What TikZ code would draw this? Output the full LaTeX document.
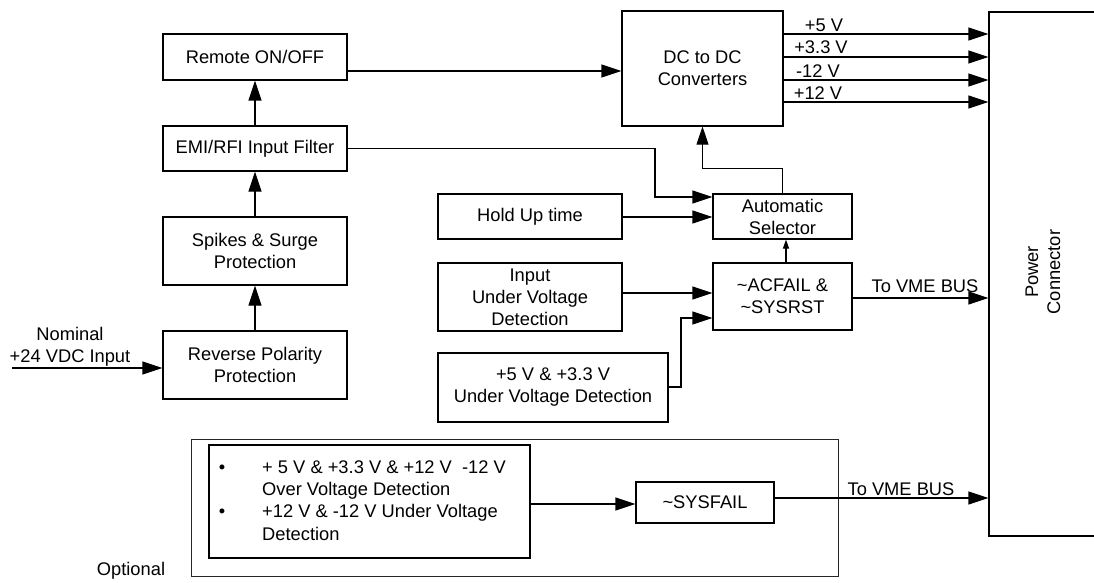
\documentclass[tikz,border=0pt]{standalone}
\usepackage{fontspec}
\setmainfont{Liberation Sans}
\usetikzlibrary{arrows.meta}
\newcommand\dgfont{\fontsize{18.3}{22}\selectfont}
\begin{document}
\begin{tikzpicture}[x=1pt,y=-1pt,
  box/.style={draw, line width=1.2pt, inner sep=0pt, align=center, font=\dgfont},
  lbl/.style={inner sep=0pt, font=\dgfont},
  ar/.style={line width=1.2pt, -{Triangle[length=20pt,width=13pt]}},
  thinar/.style={line width=0.8pt, -{Triangle[length=18pt,width=12pt]}},
  smallar/.style={line width=1.2pt, -{Triangle[length=9pt,width=6pt]}},
  optbox/.style={draw=black!85, line width=0.9pt}]
\useasboundingbox (0,0) rectangle (1094,583);

% boxes
\node[box, minimum width=184pt, minimum height=46pt] (rem) at (255,57) {Remote ON/OFF};
\node[box, minimum width=184pt, minimum height=45pt] (emi) at (255,148.5) {EMI/RFI Input Filter};
\node[box, minimum width=184pt, minimum height=68pt] (spk) at (255,251) {Spikes \& Surge\\Protection};
\node[box, minimum width=184pt, minimum height=68pt] (rev) at (255,365) {Reverse Polarity\\Protection};
\node[box, minimum width=161pt, minimum height=115pt] (dc) at (702.5,68.5) {DC to DC\\Converters};
\node[box, minimum width=184pt, minimum height=45pt] (hold) at (530,216.5) {Hold Up time};
\node[box, minimum width=139pt, minimum height=45pt] (auto) at (782.5,216.5) {Automatic\\Selector};
\node[box, minimum width=184pt, minimum height=68pt] (inuv) at (530,297) {Input\\Under Voltage\\Detection};
\node[box, minimum width=139pt, minimum height=67pt] (acf) at (782.5,296.5) {\textasciitilde ACFAIL \&\\\textasciitilde SYSRST};
\node[box, minimum width=230pt, minimum height=69pt] (v5uv) at (553,387.5) {+5 V \& +3.3 V\\Under Voltage Detection};
\node[box, minimum width=107pt, minimum height=524pt] (pc) at (1042.5,274) {};
\node[lbl, rotate=90, align=center] (pct) at (1043,272) {Power\\Connector};

% optional group
\node[optbox, inner sep=0pt, minimum width=647pt, minimum height=137pt] (opt) at (514.5,507.5) {};
\node[box, minimum width=321pt, minimum height=113pt] (inner) at (369.5,501.5) {};
\node[box, minimum width=138pt, minimum height=41pt] (sys) at (705,502.5) {\textasciitilde SYSFAIL};
\node[lbl, anchor=base] (bul1) at (222,473) {•};
\node[lbl, anchor=base] (bul2) at (222,517.5) {•};
\node[lbl, anchor=base west] (l1) at (262,473) {+ 5 V \& +3.3 V \& +12 V\ \ -12 V};
\node[lbl, anchor=base west] (l2) at (262,495) {Over Voltage Detection};
\node[lbl, anchor=base west] (l3) at (262,517.5) {+12 V \& -12 V Under Voltage};
\node[lbl, anchor=base west] (l4) at (262,540) {Detection};
\node[lbl, anchor=base] (optl) at (131,575) {Optional};

% input
\coordinate (inp) at (12,368);
\node[lbl, anchor=base] (nom1) at (70,340) {Nominal};
\node[lbl, anchor=base] (nom2) at (70,362) {+24 VDC Input};
\draw[ar] (inp) -- (inp -| rev.west);

% left chain
\draw[ar] (rev.north) -- (spk.south);
\draw[ar] (spk.north) -- (emi.south);
\draw[ar] (emi.north) -- (rem.south);
\draw[ar] (rem.east |- 0,71) -- (dc.west |- 0,71);

% EMI to selector
\coordinate (j1) at (655,148.5);
\draw[ar] (emi.east) -- (j1) -- (j1 |- 0,197) -- (auto.west |- 0,197);
\draw[ar] (hold.east |- 0,217) -- (auto.west |- 0,217);
\draw[thinar] (auto.north) -- ++(0,-25) -| (dc.south);
\draw[smallar] (acf.north -| 786,0) -- (auto.south -| 786,0);
\draw[ar] (inuv.east |- 0,293) -- (acf.west |- 0,293);
\coordinate (j2) at (681,387);
\draw[ar] (v5uv.east |- j2) -- (j2) -- (j2 |- 0,318) -- (acf.west |- 0,318);
\draw[ar] (acf.east |- 0,298) -- (pc.west |- 0,298);
\node[lbl, anchor=base] (vme1) at (925,292) {To VME BUS};

% outputs
\draw[ar] (dc.east |- 0,34) -- (pc.west |- 0,34);
\draw[ar] (dc.east |- 0,57) -- (pc.west |- 0,57);
\draw[ar] (dc.east |- 0,80) -- (pc.west |- 0,80);
\draw[ar] (dc.east |- 0,102) -- (pc.west |- 0,102);
\node[lbl, anchor=base] (o1) at (824,32) {+5 V};
\node[lbl, anchor=base] (o2) at (821,54) {+3.3 V};
\node[lbl, anchor=base] (o3) at (818,78) {-12 V};
\node[lbl, anchor=base] (o4) at (818,100) {+12 V};

% sysfail
\draw[ar] (inner.east |- 0,504) -- (sys.west |- 0,504);
\draw[ar] (sys.east |- 0,498) -- (pc.west |- 0,498);
\node[lbl, anchor=base] (vme2) at (901,495) {To VME BUS};
\end{tikzpicture}
\end{document}
